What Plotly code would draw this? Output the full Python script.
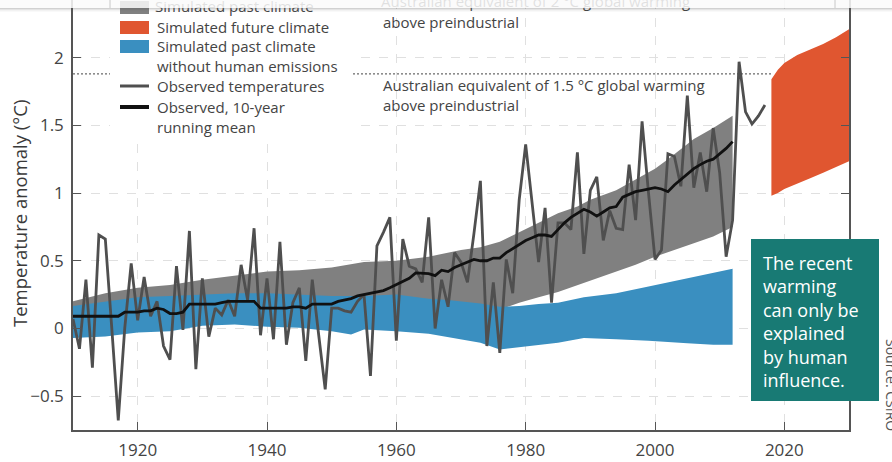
import plotly.graph_objects as go

# ---------------- data ----------------
obs_years = list(range(1910, 2018))
obs_temp = [0.07, -0.15, 0.36, -0.29, 0.69, 0.66, 0.00, -0.68, 0.00, 0.48,
            0.06, 0.38, 0.09, 0.20, -0.13, -0.23, 0.46, -0.01, 0.72, -0.30,
            0.37, -0.06, 0.15, 0.10, 0.21, 0.09, 0.47, 0.21, 0.74, -0.05,
            0.37, -0.08, 0.64, -0.12, 0.19, 0.30, -0.24, 0.36, -0.05, -0.45,
            0.15, 0.15, 0.13, 0.12, 0.20, 0.25, -0.35, 0.61, 0.71, 0.82,
            -0.09, 0.66, 0.46, 0.44, 0.34, 0.82, 0.00, 0.36, 0.16, 0.56,
            0.49, 0.34, 0.70, 1.09, -0.13, 0.34, -0.18, 0.51, 0.26, 0.95,
            1.36, 0.93, 0.49, 0.89, 0.19, 0.78, 0.78, 0.73, 1.30, 0.55,
            1.02, 1.12, 0.65, 0.87, 0.74, 0.73, 1.21, 0.80, 1.53, 1.00,
            0.51, 0.58, 1.29, 1.27, 1.05, 1.72, 1.04, 1.30, 1.01, 1.48,
            1.15, 0.53, 0.80, 1.97, 1.60, 1.51, 1.57, 1.65]

mean_years = list(range(1910, 2013))
mean_temp = [0.09, 0.09, 0.09, 0.09, 0.09, 0.085, 0.09, 0.09, 0.12, 0.12,
             0.12, 0.13, 0.13, 0.15, 0.14, 0.11, 0.11, 0.12, 0.18, 0.18,
             0.18, 0.18, 0.18, 0.19, 0.20, 0.20, 0.20, 0.20, 0.20, 0.15,
             0.15, 0.15, 0.15, 0.15, 0.16, 0.16, 0.15, 0.18, 0.18, 0.18,
             0.18, 0.20, 0.21, 0.22, 0.24, 0.25, 0.26, 0.27, 0.28, 0.30,
             0.325, 0.35, 0.37, 0.41, 0.41, 0.405, 0.39, 0.43, 0.42, 0.45,
             0.47, 0.49, 0.51, 0.50, 0.50, 0.52, 0.52, 0.56, 0.59, 0.62,
             0.65, 0.67, 0.69, 0.69, 0.68, 0.73, 0.78, 0.82, 0.85, 0.88,
             0.86, 0.83, 0.86, 0.89, 0.90, 0.97, 0.99, 1.01, 1.02, 1.03,
             1.04, 1.03, 1.01, 1.06, 1.10, 1.14, 1.18, 1.21, 1.235, 1.25,
             1.29, 1.33, 1.38]

past_years = [1910, 1915, 1920, 1925, 1930, 1935, 1940, 1945, 1950, 1955,
              1960, 1965, 1970, 1973, 1976, 1979, 1982, 1985, 1988, 1990,
              1994, 1997, 2000, 2002, 2006, 2009, 2012]
past_hi = [0.20, 0.26, 0.30, 0.32, 0.36, 0.39, 0.42, 0.43, 0.45, 0.49,
           0.50, 0.53, 0.58, 0.60, 0.64, 0.71, 0.78, 0.85, 0.90, 0.95,
           1.02, 1.10, 1.18, 1.25, 1.40, 1.48, 1.57]
past_lo = [0.05, 0.08, 0.10, 0.11, 0.12, 0.13, 0.13, 0.12, 0.11, 0.11,
           0.12, 0.11, 0.12, 0.12, 0.14, 0.19, 0.23, 0.27, 0.32, 0.35,
           0.42, 0.47, 0.53, 0.56, 0.63, 0.68, 0.75]

nat_years = [1910, 1915, 1920, 1925, 1930, 1935, 1940, 1945, 1950, 1953,
             1955, 1960, 1965, 1968, 1970, 1973, 1976, 1979, 1982, 1985,
             1989, 1994, 1999, 2005, 2009, 2012]
nat_hi = [0.165, 0.20, 0.23, 0.24, 0.25, 0.26, 0.26, 0.25, 0.24, 0.24,
          0.24, 0.25, 0.22, 0.21, 0.20, 0.185, 0.16, 0.165, 0.18, 0.19,
          0.23, 0.26, 0.31, 0.37, 0.41, 0.44]
nat_lo = [-0.07, -0.06, -0.03, -0.02, 0.02, 0.03, 0.012, 0.005, -0.02, -0.045,
          -0.007, -0.02, -0.04, -0.06, -0.08, -0.105, -0.155, -0.14, -0.12, -0.105,
          -0.07, -0.08, -0.09, -0.11, -0.12, -0.12]

fut_years = [2018, 2019, 2020, 2021, 2022, 2024, 2026, 2028, 2030]
fut_hi = [1.84, 1.91, 1.96, 1.99, 2.02, 2.06, 2.10, 2.15, 2.21]
fut_lo = [0.98, 1.00, 1.03, 1.05, 1.07, 1.11, 1.15, 1.19, 1.235]

threshold_15 = 1.88
legend_labels = ["Simulated past climate", "Simulated future climate",
                 "Simulated past climate<br>without human emissions",
                 "Observed temperatures", "Observed, 10-year<br>running mean"]
x_ticks = [1920, 1940, 1960, 1980, 2000, 2020]
y_ticks = [-0.5, 0, 0.5, 1, 1.5, 2]

# ---------------- style / geometry ----------------
GREY = "#808080"
BLUE = "#3a8fc0"
ORANGE = "#e05630"
TEAL = "#187a74"
TXT = "#444444"
FONT = "Open Sans"

W, H = 892, 462
ML, MR, MB, MT = 73, 43, 32, 0
PW = W - ML - MR
PH = H - MB - MT
X0, X1 = 1910, 2030
Y0 = -0.75
Y1 = Y0 + PH / 135.4


def px_x(p):
    return (p - ML) / PW


def px_y(p):
    return (H - MB - p) / PH


def yr(p):
    return X0 + (p - ML) / PW * (X1 - X0)


def val(p):
    return Y1 - (p - MT) / PH * (Y1 - Y0)


def band(xs, hi, lo):
    return xs + xs[::-1], hi + lo[::-1]


fig = go.Figure()

bx, by = band(past_years, past_hi, past_lo)
fig.add_trace(go.Scatter(x=bx, y=by, fill="toself", fillcolor=GREY,
                         line=dict(width=0), mode="lines", hoverinfo="skip"))
bx, by = band(nat_years, nat_hi, nat_lo)
fig.add_trace(go.Scatter(x=bx, y=by, fill="toself", fillcolor=BLUE,
                         line=dict(width=0), mode="lines", hoverinfo="skip"))
bx, by = band(fut_years, fut_hi, fut_lo)
fig.add_trace(go.Scatter(x=bx, y=by, fill="toself", fillcolor=ORANGE,
                         line=dict(width=0), mode="lines", hoverinfo="skip"))
fig.add_trace(go.Scatter(x=obs_years, y=obs_temp, mode="lines",
                         line=dict(color="#4f4f4f", width=2.8)))
fig.add_trace(go.Scatter(x=mean_years, y=mean_temp, mode="lines",
                         line=dict(color="#111111", width=2.8)))

# texts that sit under the top overlay (as text traces so the overlay covers them)
fig.add_trace(go.Scatter(x=[yr(155)], y=[val(8)], mode="text",
                         text=[legend_labels[0]], textposition="middle right",
                         textfont=dict(family=FONT, size=15, color=TXT)))
fig.add_trace(go.Scatter(x=[yr(381)], y=[val(3)], mode="text",
                         text=["Australian equivalent of 2 °C global warming"],
                         textposition="middle right",
                         textfont=dict(family=FONT, size=15, color=TXT)))

shapes = []
# 1.5 degree threshold line
shapes.append(dict(type="line", xref="x", yref="y", x0=X0, x1=2018,
                   y0=threshold_15, y1=threshold_15, layer="between",
                   line=dict(color="#444", width=1, dash="2px,2px")))
# legend background
shapes.append(dict(type="rect", xref="x", yref="y", x0=yr(110), x1=yr(352),
                   y0=val(138), y1=Y1 + 0.1, layer="between",
                   fillcolor="white", line=dict(width=0)))
# legend swatches
for (t, b, c) in [(1, 14, GREY), (21, 34, ORANGE), (40, 53, BLUE)]:
    shapes.append(dict(type="rect", xref="paper", yref="paper",
                       x0=px_x(120), x1=px_x(149), y0=px_y(b), y1=px_y(t),
                       fillcolor=c, line=dict(width=0), layer="above"))
shapes.append(dict(type="line", xref="paper", yref="paper",
                   x0=px_x(120), x1=px_x(149), y0=px_y(86), y1=px_y(86),
                   line=dict(color="#4f4f4f", width=3), layer="above"))
shapes.append(dict(type="line", xref="paper", yref="paper",
                   x0=px_x(120), x1=px_x(149), y0=px_y(107), y1=px_y(107),
                   line=dict(color="#111111", width=4), layer="above"))
# teal message box
shapes.append(dict(type="rect", xref="paper", yref="paper",
                   x0=px_x(751), x1=px_x(879), y0=px_y(401), y1=px_y(239),
                   fillcolor=TEAL, line=dict(width=0), layer="above"))
# top page overlay (sticky header) with shadow
shapes.append(dict(type="rect", xref="paper", yref="paper",
                   x0=px_x(-2), x1=px_x(W + 2), y0=px_y(8), y1=px_y(-5),
                   fillcolor="rgba(250,250,250,0.86)", line=dict(width=0),
                   layer="above"))
for i, a in enumerate([0.28, 0.16, 0.08, 0.04]):
    shapes.append(dict(type="rect", xref="paper", yref="paper",
                       x0=px_x(-2), x1=px_x(W + 2), y0=px_y(9 + i), y1=px_y(8 + i),
                       fillcolor=f"rgba(90,90,90,{a})", line=dict(width=0),
                       layer="above"))
for xp in [110, 835]:
    shapes.append(dict(type="line", xref="paper", yref="paper",
                       x0=px_x(xp), x1=px_x(xp), y0=px_y(8), y1=px_y(-2),
                       line=dict(color="#c8c8c8", width=1), layer="above"))

annotations = []
for txt, yc in [(legend_labels[1], 27), (legend_labels[2], 56.5),
                (legend_labels[3], 86), (legend_labels[4], 116.5)]:
    annotations.append(dict(xref="paper", yref="paper", x=px_x(155), y=px_y(yc),
                            xanchor="left", yanchor="middle", align="left",
                            text=txt, showarrow=False,
                            font=dict(family=FONT, size=15, color=TXT)))
annotations.append(dict(xref="paper", yref="paper", x=px_x(381), y=px_y(22),
                        xanchor="left", yanchor="middle", align="left",
                        text="above preindustrial", showarrow=False,
                        font=dict(family=FONT, size=15, color=TXT)))
annotations.append(dict(xref="paper", yref="paper", x=px_x(381), y=px_y(95),
                        xanchor="left", yanchor="middle", align="left",
                        text="Australian equivalent of 1.5 °C global warming<br>above preindustrial",
                        showarrow=False, font=dict(family=FONT, size=15, color=TXT)))
annotations.append(dict(xref="paper", yref="paper", x=px_x(761), y=px_y(321),
                        xanchor="left", yanchor="middle", align="left",
                        text="The recent<br>warming<br>can only be<br>explained<br>by human<br>influence.",
                        showarrow=False, font=dict(family=FONT, size=18, color="white")))
annotations.append(dict(xref="paper", yref="paper", x=px_x(20), y=px_y(214),
                        xanchor="center", yanchor="middle", textangle=-90,
                        text="Temperature anomaly (°C)", showarrow=False,
                        font=dict(family=FONT, size=18.5, color="#3a3a3a")))
annotations.append(dict(xref="paper", yref="paper", x=px_x(892), y=px_y(385),
                        xanchor="center", yanchor="middle", textangle=90,
                        text="Source: CSIRO", showarrow=False,
                        font=dict(family=FONT, size=14, color="#555")))

fig.update_layout(
    width=W, height=H,
    margin=dict(l=ML, r=MR, t=MT, b=MB, pad=0),
    paper_bgcolor="white", plot_bgcolor="white",
    showlegend=False,
    font=dict(family=FONT, color=TXT),
    shapes=shapes, annotations=annotations,
    xaxis=dict(range=[X0, X1], tickvals=x_ticks, ticks="inside", ticklen=8,
               tickcolor="#555", showline=True, linecolor="#555", linewidth=1.5,
               showgrid=True, gridcolor="#e0e0e0", griddash="dash", gridwidth=1,
               zeroline=False, tickfont=dict(size=17, color=TXT),
               ticklabelstandoff=4),
    yaxis=dict(range=[Y0, Y1], tickvals=y_ticks, ticks="inside", ticklen=8,
               tickcolor="#555", showline=True, linecolor="#555", linewidth=1.5,
               mirror="ticks",
               showgrid=True, gridcolor="#e0e0e0", griddash="dash", gridwidth=1,
               zeroline=False, tickfont=dict(size=17, color=TXT),
               ticklabelstandoff=4),
)

fig.write_html("out.html", config={"displayModeBar": False},
               post_script="document.body.style.margin='0px';"
                           "document.body.style.overflow='hidden';")
